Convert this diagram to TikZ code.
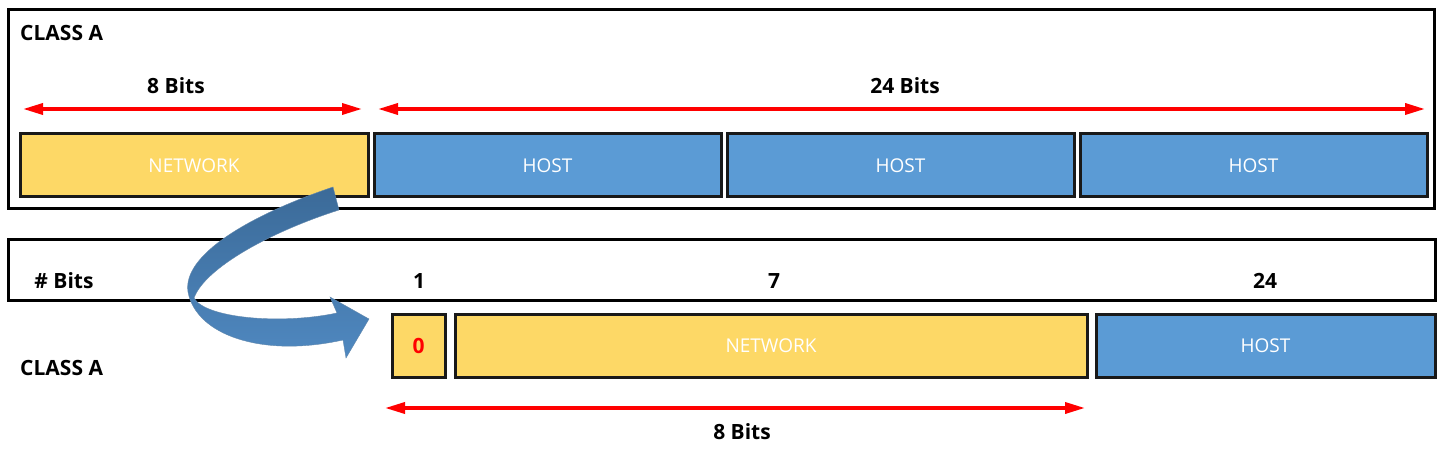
\documentclass[tikz,border=0pt]{standalone}
\usepackage{fontspec}
\setmainfont{Open Sans}
\usetikzlibrary{arrows.meta}
\definecolor{netyellow}{HTML}{FDD866}
\definecolor{hostblue}{HTML}{5B9BD5}
\definecolor{arrdark}{HTML}{3B6A98}
\definecolor{arrlight}{HTML}{4F88C0}
\tikzset{
  frame/.style={draw=black, line width=3pt, fill=white, inner sep=0pt},
  field/.style={draw=black!90, line width=3pt, inner sep=0pt, text=white, font=\fontsize{19}{21}\selectfont},
  netbox/.style={field, fill=netyellow},
  hostbox/.style={field, fill=hostblue},
  lbl/.style={font=\bfseries\fontsize{21}{23}\selectfont, inner sep=0pt},
  span/.style={draw=red, line width=3.5pt, {Triangle[length=20pt,width=11pt]}-{Triangle[length=20pt,width=11pt]}}
}
\begin{document}
\begin{tikzpicture}[x=1pt,y=-1pt]
\useasboundingbox (0,0) rectangle (1443,454);
% frames
\node[frame, minimum width=1426pt, minimum height=199pt] (frameA) at (721,109.5) {};
\node[frame, minimum width=1427pt, minimum height=61pt] (frameB) at (721.5,270.5) {};
% top fields
\node[netbox, minimum width=348pt, minimum height=63pt] (netA) at (194,165.5) {NETWORK};
\node[hostbox, minimum width=347pt, minimum height=63pt] (hostA1) at (547.5,165.5) {HOST};
\node[hostbox, minimum width=347pt, minimum height=63pt] (hostA2) at (900.5,165.5) {HOST};
\node[hostbox, minimum width=347pt, minimum height=63pt] (hostA3) at (1253.5,165.5) {HOST};
% bottom fields
\node[netbox, minimum width=53pt, minimum height=62pt, text=red, font=\bfseries\fontsize{21}{23}\selectfont] (zero) at (418.5,346) {0};
\node[netbox, minimum width=632pt, minimum height=62pt] (netB) at (771,346) {NETWORK};
\node[hostbox, minimum width=339pt, minimum height=62pt] (hostB) at (1265.5,346) {HOST};
% labels
\node[lbl, anchor=west] (classA1) at (20,33) {CLASS A};
\node[lbl] (bits8) at (176,86) {8 Bits};
\node[lbl] (bits24) at (905,86) {24 Bits};
\node[lbl] (hashbits) at (64,281) {\# Bits};
\node[lbl] (n1) at (419,281) {1};
\node[lbl] (n7) at (774,281) {7};
\node[lbl] (n24) at (1265,281) {24};
\node[lbl, anchor=west] (classA2) at (20,368) {CLASS A};
\node[lbl] (bits8b) at (742,432) {8 Bits};
% span arrows
\coordinate (a1s) at (23,109); \coordinate (a1e) at (362,109);
\coordinate (a2s) at (378,109); \coordinate (a2e) at (1425,109);
\coordinate (a3s) at (385,408); \coordinate (a3e) at (1085,408);
\draw[span] (a1s) -- (a1e);
\draw[span] (a2s) -- (a2e);
\draw[span] (a3s) -- (a3e);
% curved block arrow
\shade[top color=arrdark, bottom color=arrlight, draw=arrdark!80, line width=0.4pt]
  (333,187) .. controls (250,215) and (182,255) .. (188,292)
  .. controls (196,335) and (262,358) .. (343,340)
  -- (346,358) -- (369,319) -- (330,297) -- (337,313)
  .. controls (280,325) and (205,318) .. (194,298)
  .. controls (205,268) and (270,232) .. (339,210) -- cycle;
\end{tikzpicture}
\end{document}
